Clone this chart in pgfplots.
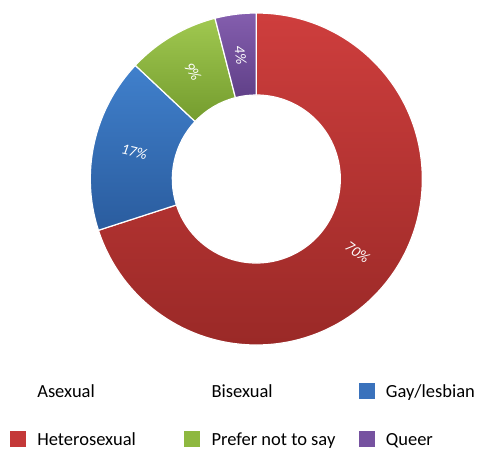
\documentclass[border=0pt]{standalone}
\usepackage{pgfplots}
\usepackage{pgfplotstable}
\pgfplotsset{compat=1.18}
\usepackage{fontspec}
\setmainfont{Carlito}
\definecolor{heteroT}{RGB}{206,62,61}
\definecolor{heteroB}{RGB}{154,41,39}
\definecolor{heteroL}{RGB}{196,56,56}
\definecolor{gayT}{RGB}{64,128,204}
\definecolor{gayB}{RGB}{42,92,158}
\definecolor{gayL}{RGB}{58,114,188}
\definecolor{preferT}{RGB}{160,200,80}
\definecolor{preferB}{RGB}{116,156,46}
\definecolor{preferL}{RGB}{142,184,64}
\definecolor{queerT}{RGB}{132,94,174}
\definecolor{queerB}{RGB}{96,64,136}
\definecolor{queerL}{RGB}{118,82,160}
\pgfplotsset{sqlegend/.style={legend image code/.code={\path[##1] (0pt,-8pt) rectangle (16pt,8pt);}}}
% slices, clockwise from 12 o'clock
\pgfplotstableread[col sep=comma]{
label,value
Heterosexual,70
Gay/lesbian,17
Prefer not to say,9
Queer,4
}\slices
\newcommand\getval[2]{\pgfplotstablegetelem{#1}{value}\of\slices\global\let#2\pgfplotsretval}
\def\cx{256.3}\def\cy{271}\def\Ro{166}\def\Ri{84}\def\Rm{125}
\newcommand\lw[1]{\makebox[140pt][l]{#1}}
% #1 start angle, #2 end angle, #3 top colour, #4 bottom colour, #5 value, #6 mid angle, #7 rotation
\newcommand\slice[7]{%
  \shade[top color=#3, bottom color=#4, draw=white, line width=1.2pt, line join=round]
    (axis cs:{\cx+\Ro*cos(#1)},{\cy+\Ro*sin(#1)}) arc[start angle=#1, end angle=#2, radius=\Ro pt]
    -- (axis cs:{\cx+\Ri*cos(#2)},{\cy+\Ri*sin(#2)}) arc[start angle=#2, end angle=#1, radius=\Ri pt] -- cycle;
  \node[text=white, font=\fontsize{15}{18}\selectfont\itshape, rotate=#7, inner sep=0pt]
    at (axis cs:{\cx+\Rm*cos(#6)},{\cy+\Rm*sin(#6)}) {#5\%};
}
\begin{document}
\begin{tikzpicture}
\getval{0}{\vH}\getval{1}{\vG}\getval{2}{\vP}\getval{3}{\vQ}
\pgfmathsetmacro\aA{90}
\pgfmathsetmacro\aB{\aA-3.6*\vH}
\pgfmathsetmacro\aC{\aB-3.6*\vG}
\pgfmathsetmacro\aD{\aC-3.6*\vP}
\pgfmathsetmacro\aE{\aD-3.6*\vQ}
\pgfmathsetmacro\mH{(\aA+\aB)/2}\pgfmathsetmacro\rH{\mH}
\pgfmathsetmacro\mG{(\aB+\aC)/2}\pgfmathsetmacro\rG{\mG+180}
\pgfmathsetmacro\mP{(\aC+\aD)/2}\pgfmathsetmacro\rP{\mP+180}
\pgfmathsetmacro\mQ{(\aD+\aE)/2}\pgfmathsetmacro\rQ{\mQ+180}
\begin{axis}[
  x=1pt, y=1pt, xmin=0, xmax=478, ymin=0, ymax=450,
  hide axis, clip=false,
  legend columns=3,
  legend cell align=left,
  legend style={draw=none, fill=none, inner sep=0pt, outer sep=0pt,
    at={(axis cs:10,69.5)}, anchor=north west,
    font=\fontsize{18.5}{22}\selectfont,
    row sep=28pt,
    nodes={inner sep=0pt, outer sep=0pt, text height=17pt, text depth=3pt},
    /tikz/every odd column/.append style={column sep=11.3pt},
    /tikz/every even column/.append style={column sep=7pt}},
]
\path (axis cs:0,0) rectangle (axis cs:478,450);
\slice{\aA}{\aB}{heteroT}{heteroB}{\vH}{\mH}{\rH}
\slice{\aB}{\aC}{gayT}{gayB}{\vG}{\mG}{\rG}
\slice{\aC}{\aD}{preferT}{preferB}{\vP}{\mP}{\rP}
\slice{\aD}{\aE}{queerT}{queerB}{\vQ}{\mQ}{\rQ}
\addlegendimage{sqlegend, draw=none, fill=none}
\addlegendentry{\lw{Asexual}}
\addlegendimage{sqlegend, draw=none, fill=none}
\addlegendentry{\lw{Bisexual}}
\addlegendimage{sqlegend, draw=none, fill=gayL}
\addlegendentry{Gay/lesbian}
\addlegendimage{sqlegend, draw=none, fill=heteroL}
\addlegendentry{\lw{Heterosexual}}
\addlegendimage{sqlegend, draw=none, fill=preferL}
\addlegendentry{\lw{Prefer not to say}}
\addlegendimage{sqlegend, draw=none, fill=queerL}
\addlegendentry{Queer}
\end{axis}
\end{tikzpicture}
\end{document}
